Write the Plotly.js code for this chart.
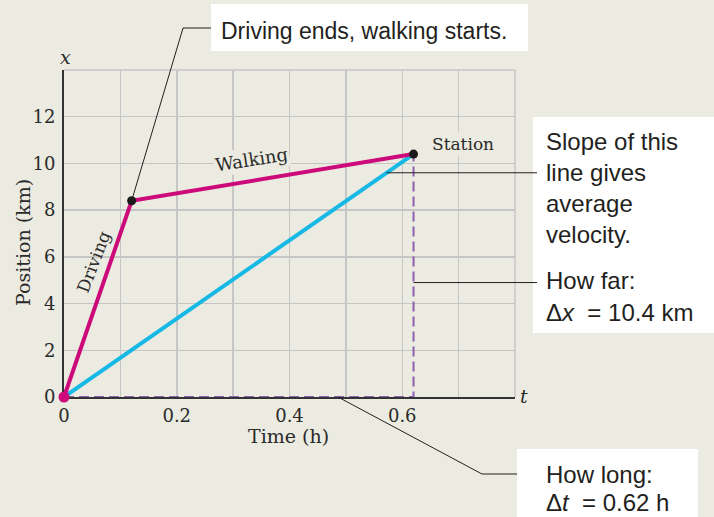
<!DOCTYPE html>
<html>
<head>
<meta charset="utf-8">
<script src="https://cdn.plot.ly/plotly-3.0.1.min.js"></script>
<style>
  html, body { margin: 0; padding: 0; background: #ecebe1; }
  #chart { width: 714px; height: 517px; }
</style>
</head>
<body>
<div id="chart"></div>
<script>
// trip: drive, then walk to the station
const tripTime = [0, 0.12, 0.62];
const tripPos = [0, 8.4, 10.4];

const xTickVals = [0, 0.1, 0.2, 0.3, 0.4, 0.5, 0.6, 0.7, 0.8];
const xTickText = ["0", "", "0.2", "", "0.4", "", "0.6", "", ""];
const yTickVals = [0, 2, 4, 6, 8, 10, 12, 14];
const yTickText = ["0", "2", "4", "6", "8", "10", "12", ""];

const slopeLines = ["Slope of this", "line gives", "average", "velocity."];
const farLines = ["How far:", "Δ<i>x</i>  = 10.4 km"];
const longLines = ["How long:", "Δ<i>t</i>  = 0.62 h"];
const endLabel = "Driving ends, walking starts.";

const bg = "#ecebe1";
const magenta = "#cc0a7a";
const cyan = "#16b9e6";
const purple = "#8c5faf";
const ink = "#231f20";
const grid = "#c6c6c6";

const xRange = [0, 0.8];
const yRange = [0, 14];

// plot area in pixels
const box = { l: 64, r: 515, t: 70, b: 397 };
const pw = box.r - box.l;
const ph = box.b - box.t;

function px(x) { return (x - box.l) / pw; }
function py(y) { return (box.b - y) / ph; }
function dx(t) { return (t - xRange[0]) / (xRange[1] - xRange[0]); }
function dy(v) { return (v - yRange[0]) / (yRange[1] - yRange[0]); }
function path(points) {
  return points.map((p, i) => (i ? "L" : "M") + p[0].toFixed(4) + "," + p[1].toFixed(4)).join(" ");
}

const tEnd = tripTime[tripTime.length - 1];
const xEnd = tripPos[tripPos.length - 1];

const traces = [
  {
    type: "scatter", mode: "lines",
    x: [tripTime[0], tEnd, tEnd], y: [0, 0, xEnd],
    line: { color: purple, width: 2, dash: "10px,5px" },
    cliponaxis: false, hoverinfo: "skip"
  },
  {
    type: "scatter", mode: "lines",
    x: [tripTime[0], tEnd], y: [tripPos[0], xEnd],
    line: { color: cyan, width: 4 },
    cliponaxis: false, hoverinfo: "skip"
  },
  {
    type: "scatter", mode: "lines",
    x: tripTime, y: tripPos,
    line: { color: magenta, width: 4 },
    cliponaxis: false, hoverinfo: "skip"
  },
  {
    type: "scatter", mode: "markers",
    x: [tripTime[0]], y: [tripPos[0]],
    marker: { color: magenta, size: 11 },
    cliponaxis: false, hoverinfo: "skip"
  },
  {
    type: "scatter", mode: "markers",
    x: tripTime.slice(1), y: tripPos.slice(1),
    marker: { color: "#1a1a1a", size: 9 },
    cliponaxis: false, hoverinfo: "skip"
  }
];

// where the slope pointer touches the blue line
const slopeV = 9.6;
const slopeT = slopeV / xEnd * tEnd;

const shapes = [
  // top and right edges of the grid
  { type: "path", xref: "paper", yref: "paper", path: path([[0, 1], [1, 1], [1, 0]]),
    line: { color: grid, width: 1.5 }, layer: "below" },
  { type: "rect", xref: "paper", yref: "paper", x0: px(211), x1: px(528), y0: py(4), y1: py(51),
    fillcolor: "#ffffff", line: { width: 0 }, layer: "below" },
  { type: "rect", xref: "paper", yref: "paper", x0: px(533), x1: px(714), y0: py(117), y1: py(333),
    fillcolor: "#ffffff", line: { width: 0 }, layer: "below" },
  { type: "rect", xref: "paper", yref: "paper", x0: px(517), x1: px(698), y0: py(449), y1: py(517),
    fillcolor: "#ffffff", line: { width: 0 }, layer: "below" },
  { type: "path", xref: "paper", yref: "paper",
    path: path([[dx(tripTime[1]), dy(tripPos[1])], [px(183), py(28)], [px(211), py(28)]]),
    line: { color: ink, width: 1 } },
  { type: "path", xref: "paper", yref: "paper",
    path: path([[dx(slopeT), dy(slopeV)], [px(537), dy(slopeV)]]),
    line: { color: ink, width: 1 } },
  { type: "path", xref: "paper", yref: "paper",
    path: path([[dx(tEnd), dy(4.9)], [px(537), dy(4.9)]]),
    line: { color: ink, width: 1 } },
  { type: "path", xref: "paper", yref: "paper",
    path: path([[dx(0.486), dy(0)], [px(482), py(474)], [px(517), py(474)]]),
    line: { color: ink, width: 1 } }
];

const sans = { family: "Liberation Sans, Arial, sans-serif", size: 24, color: ink };
const serif = { family: "DejaVu Serif, serif", size: 18, color: "#2a2a2a" };

function note(text, xPix, yPix, font) {
  return {
    text, xref: "paper", yref: "paper", x: px(xPix), y: py(yPix),
    xanchor: "left", yanchor: "middle", showarrow: false, font
  };
}
function serifNote(text, xPix, yPix, size, extra) {
  return Object.assign({
    text, xref: "paper", yref: "paper", x: px(xPix), y: py(yPix),
    xanchor: "center", yanchor: "middle", showarrow: false,
    font: Object.assign({}, serif, { size })
  }, extra || {});
}

const annotations = [
  note(endLabel, 219, 31, Object.assign({}, sans, { size: 23 })),
  ...slopeLines.map((s, i) => note(s, 544, 141 + i * 31.3, sans)),
  ...farLines.map((s, i) => note(s, 544, 280 + i * 32, sans)),
  ...longLines.map((s, i) => note(s, 544, 475 + i * 27, sans)),
  serifNote("<i>x</i>", 65, 57, 19),
  serifNote("<i>t</i>", 524, 396, 19),
  serifNote("Time (h)", 288, 436, 19),
  serifNote("Position (km)", 23, 243, 19, { textangle: -90 }),
  { text: "Station", x: 0.707, y: 10.85, xref: "x", yref: "y", showarrow: false,
    bgcolor: bg, borderpad: 2, font: Object.assign({}, serif, { size: 17 }) },
  { text: "Walking", x: 0.332, y: 10.15, xref: "x", yref: "y", showarrow: false, textangle: -9,
    bgcolor: bg, borderpad: 1, font: Object.assign({}, serif, { size: 18 }) },
  { text: "Driving", x: 0.052, y: 5.8, xref: "x", yref: "y", showarrow: false, textangle: -69,
    font: Object.assign({}, serif, { size: 17 }) }
];

const layout = {
  width: 714,
  height: 517,
  margin: { l: box.l, r: 714 - box.r, t: box.t, b: 517 - box.b },
  paper_bgcolor: bg,
  plot_bgcolor: bg,
  showlegend: false,
  font: serif,
  xaxis: {
    range: xRange,
    tickvals: xTickVals,
    ticktext: xTickText,
    ticks: "",
    ticklabelstandoff: 1,
    showgrid: true,
    gridcolor: grid,
    gridwidth: 1.5,
    zeroline: false,
    showline: true,
    linecolor: "#333333",
    linewidth: 2,
    layer: "below traces",
    tickfont: serif,
    fixedrange: true
  },
  yaxis: {
    range: yRange,
    tickvals: yTickVals,
    ticktext: yTickText,
    ticks: "",
    ticklabelstandoff: 3,
    showgrid: true,
    gridcolor: grid,
    gridwidth: 1.5,
    zeroline: false,
    showline: true,
    linecolor: "#333333",
    linewidth: 2,
    layer: "below traces",
    tickfont: serif,
    fixedrange: true
  },
  shapes,
  annotations
};

Plotly.newPlot("chart", traces, layout, { displayModeBar: false, staticPlot: true });
</script>
</body>
</html>
